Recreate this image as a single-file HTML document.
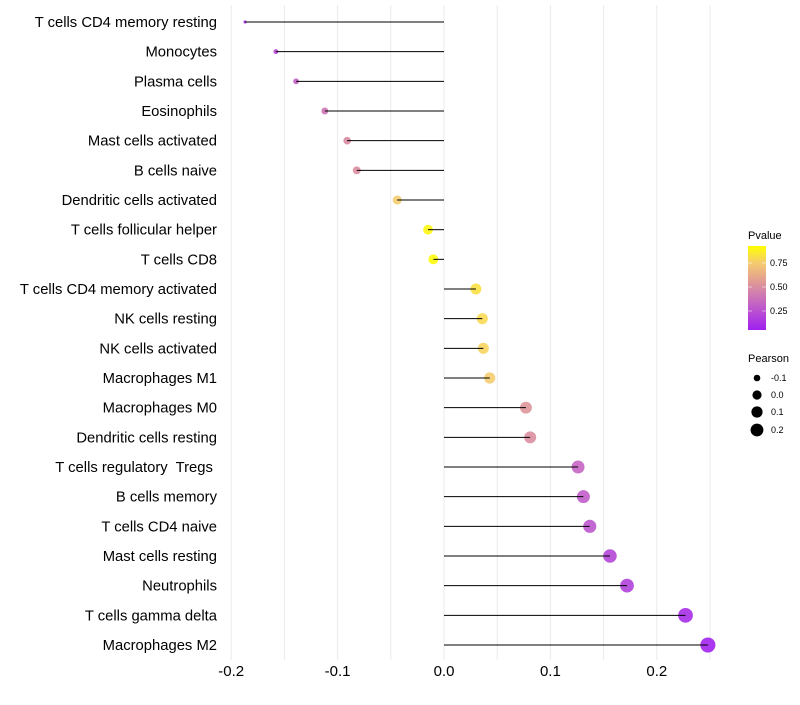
<!DOCTYPE html>
<html><head><meta charset="utf-8"><style>
body{margin:0;background:#fff;font-family:"Liberation Sans",sans-serif}
text{white-space:pre}
</style></head><body>
<svg id="c" width="800" height="700" xmlns="http://www.w3.org/2000/svg"></svg>
<script>
const categories=["T cells CD4 memory resting","Monocytes","Plasma cells","Eosinophils","Mast cells activated","B cells naive","Dendritic cells activated","T cells follicular helper","T cells CD8","T cells CD4 memory activated","NK cells resting","NK cells activated","Macrophages M1","Macrophages M0","Dendritic cells resting","T cells regulatory  Tregs ","B cells memory","T cells CD4 naive","Mast cells resting","Neutrophils","T cells gamma delta","Macrophages M2"];
const pearson=[-0.187,-0.158,-0.139,-0.112,-0.091,-0.082,-0.044,-0.015,-0.010,0.030,0.036,0.037,0.043,0.077,0.081,0.126,0.131,0.137,0.156,0.172,0.227,0.248];
const pvalue=[0.10,0.20,0.30,0.40,0.50,0.52,0.80,0.97,0.98,0.88,0.85,0.83,0.80,0.55,0.52,0.32,0.28,0.25,0.18,0.15,0.06,0.02];
const xTicks=[-0.2,-0.1,0.0,0.1,0.2];
const xTickLabels=["-0.2","-0.1","0.0","0.1","0.2"];
const NS="http://www.w3.org/2000/svg";
const svg=document.getElementById('c');
const X=v=>444+v*1064;
const Y=i=>22+i*(623/21);
const R=v=>Math.sqrt(Math.max(2,26+125*v));
function col(p){const st=[[0,[160,32,240]],[0.35,[200,108,192]],[0.6,[227,160,144]],[0.8,[245,204,112]],[1,[255,255,0]]];
for(let i=0;i<st.length-1;i++){if(p<=st[i+1][0]){const t=(p-st[i][0])/(st[i+1][0]-st[i][0]);const c=st[i][1].map((a,k)=>Math.round(a+(st[i+1][1][k]-a)*t));return`rgb(${c})`}}return'rgb(255,255,0)'}
function el(t,a,txt){const e=document.createElementNS(NS,t);for(const k in a)e.setAttribute(k,a[k]);if(txt!==undefined)e.textContent=txt;svg.appendChild(e);return e}
for(let v=-0.2;v<=0.26;v+=0.05){const g=el('line',{x1:X(v),x2:X(v),y1:5,y2:660,stroke:'#ebebeb','stroke-width':1});

}
xTicks.forEach((v,i)=>{const t=el('text',{x:X(v),y:676,'text-anchor':'middle','font-size':15,fill:'#000'},xTickLabels[i]);

});
categories.forEach((c,i)=>{const y=Y(i);
const t=el('text',{x:217,y:y+5,'text-anchor':'end','font-size':14.8,fill:'#000'},c);


const p=el('circle',{cx:X(pearson[i]),cy:y,r:R(pearson[i]),fill:col(pvalue[i]),'fill-opacity':0.9});


const l=el('line',{x1:X(0),x2:X(pearson[i]),y1:y,y2:y,stroke:'#000','stroke-width':1});

});
const defs=el('defs',{});
const lg=document.createElementNS(NS,'linearGradient');lg.setAttribute('id','pg');lg.setAttribute('x1',0);lg.setAttribute('y1',1);lg.setAttribute('x2',0);lg.setAttribute('y2',0);defs.appendChild(lg);
[0,0.2,0.4,0.6,0.8,1].forEach(o=>{const s=document.createElementNS(NS,'stop');s.setAttribute('offset',o);s.setAttribute('stop-color',col(o));lg.appendChild(s)});
const lt=el('text',{x:748,y:239,'font-size':11,fill:'#000'},'Pvalue');


const bar=el('rect',{x:748,y:246,width:18,height:84,fill:'url(#pg)'});


[[0.75,266],[0.50,290],[0.25,314]].forEach(([v,y])=>{el('line',{x1:748,x2:752,y1:y-3,y2:y-3,stroke:'#fff','stroke-opacity':0.5});el('line',{x1:762,x2:766,y1:y-3,y2:y-3,stroke:'#fff','stroke-opacity':0.5});
const t=el('text',{x:770,y:y,'font-size':9,fill:'#000'},v.toFixed(2));

});
const pt=el('text',{x:748,y:362,'font-size':11,fill:'#000'},'Pearson');


[[-0.1,378],[0.0,395],[0.1,412],[0.2,430]].forEach(([v,y])=>{const c=el('circle',{cx:757,cy:y,r:R(v)*0.9,fill:'#000'});


const t=el('text',{x:771,y:y+3,'font-size':9,fill:'#000'},v.toFixed(1));

});
</script>
</body></html>
